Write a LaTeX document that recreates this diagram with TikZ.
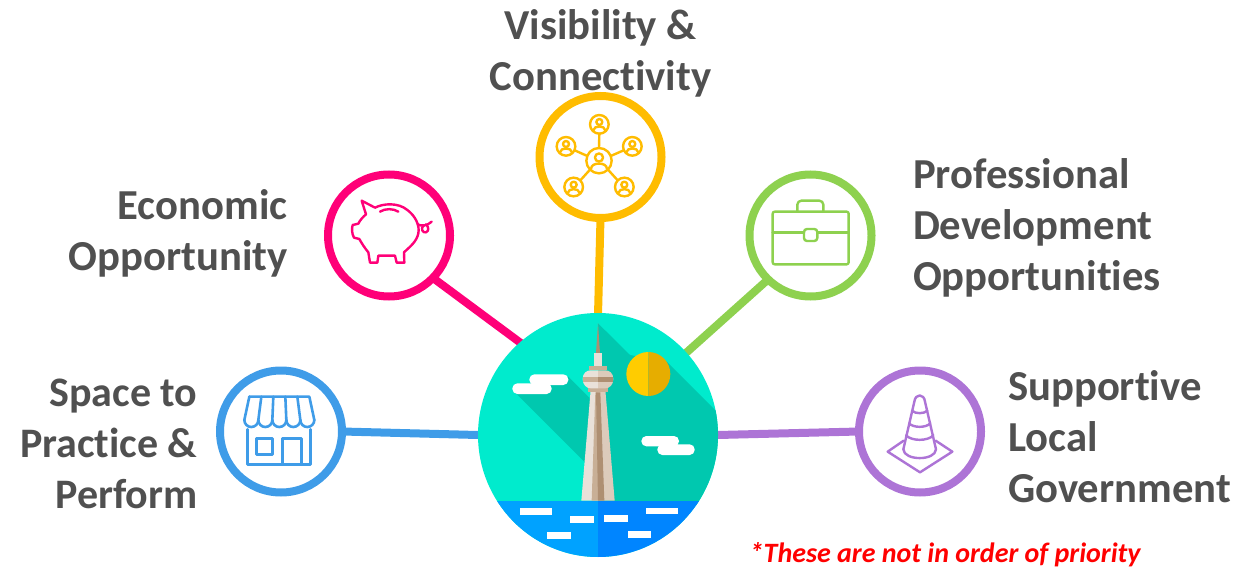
\documentclass[tikz,border=0pt]{standalone}
\usepackage{fontspec}
\setmainfont{Carlito}[Ligatures=NoCommon]
\definecolor{txtgray}{HTML}{505050}
\definecolor{cyellow}{HTML}{FFBC00}
\definecolor{cpink}{HTML}{FF0078}
\definecolor{cgreen}{HTML}{8ED14F}
\definecolor{cblue}{HTML}{3F9CE8}
\definecolor{cpurple}{HTML}{AD74D6}
\definecolor{teal1}{HTML}{00EBCD}
\definecolor{teal2}{HTML}{00C8AF}
\definecolor{wat1}{HTML}{00A2FF}
\definecolor{wat2}{HTML}{0085FF}
\definecolor{sun1}{HTML}{FFCC00}
\definecolor{sun2}{HTML}{E6AD00}
\definecolor{tw1}{HTML}{E9E1D9}
\definecolor{tw2}{HTML}{DCCBBB}
\definecolor{tw3}{HTML}{C8AF96}
\definecolor{tw4}{HTML}{AE8F72}
\tikzset{
  x=1pt,y=-1pt,
  ring/.style={circle,draw=#1,line width=8pt,fill=white,minimum size=122pt,inner sep=0pt,outer sep=0pt},
  spoke/.style={draw=#1,line width=8pt},
  lab/.style={inner sep=0pt,outer sep=0pt,text=txtgray,font=\fontsize{42.7}{51}\selectfont\bfseries},
  icon/.style={line width=2.4pt,line join=round,line cap=round,draw=#1},
  zoomed/.style={x=0.33333pt,y=-0.33333pt},
}
\newcommand{\personicon}[3]{% x y radius, in zoom units
  \draw (#1,#2) circle[radius=#3];
  \draw (#1,#2-0.25*#3) circle[radius=0.32*#3];
  \draw (#1-0.62*#3,#2+0.62*#3) .. controls (#1-0.62*#3,#2+0.1*#3) and (#1+0.62*#3,#2+0.1*#3) .. (#1+0.62*#3,#2+0.62*#3);
}
\begin{document}
\begin{tikzpicture}
\useasboundingbox (0,0) rectangle (1249,569);
% hub and rings
\node[circle,minimum size=240pt,inner sep=0pt,outer sep=0pt] (hub) at (598,435) {};
\node[ring=cyellow] (vis) at (600.5,157) {};
\node[ring=cpink] (eco) at (389,235.5) {};
\node[ring=cgreen] (pro) at (810.5,235.5) {};
\node[ring=cblue] (spa) at (281,431.5) {};
\node[ring=cpurple] (sup) at (920,431.5) {};
% connectors
\draw[spoke=cyellow] (vis.-90) -- (hub.90);
\draw[spoke=cpink] (eco.-44) -- (hub.130);
\draw[spoke=cgreen] (pro.226) -- (hub.43);
\draw[spoke=cblue] (spa.0) -- (hub.180);
\draw[spoke=cpurple] (sup.180) -- (hub.0);
% scene
\begin{scope}[shift={(470,305)},zoomed]
\clip (384,390) ellipse[x radius=360,y radius=366];
\fill[teal1] (0,0) rectangle (780,780);
\fill[teal2] (384,55) -- (480,150) -- (590,170) -- (745,325) -- (780,600) -- (384,600) -- cycle;
\fill[teal2] (135,262) -- (345,472) -- (384,472) -- (384,290) -- (360,280) -- (295,215) -- (180,235) -- cycle;
\fill[sun1] (535,141) arc[start angle=270,end angle=90,radius=66] -- cycle;
\fill[sun2] (535,141) arc[start angle=270,end angle=450,radius=66] -- cycle;
\foreach \a/\b/\c/\d in {178/208/295/240,127/235/245/267,514/393/627/424,562/418/674/450}
  \fill[white,rounded corners=5pt] (\a,\b) rectangle (\c,\d);
\fill[wat1] (0,587) rectangle (384,780);
\fill[wat2] (384,587) rectangle (780,780);
\foreach \a/\b/\c/\d in {150/610/247/630,301/633/372/653,232/681/302/701,403/631/473/651,528/608/625/628,473/679/543/699}
  \fill[white] (\a,\b) rectangle (\c,\d);
% tower
\fill[tw1] (362,255) -- (384,255) -- (384,587) -- (334,587) -- cycle;
\fill[tw2] (384,255) -- (406,255) -- (434,587) -- (384,587) -- cycle;
\fill[tw3] (376,262) -- (384,262) -- (384,587) -- (365,587) -- cycle;
\fill[tw4] (378,262) -- (391,262) -- (403,587) -- (384,587) -- cycle;
\fill[tw4] (384,55) -- (378,145) -- (390,145) -- cycle;
\fill[tw1] (372,145) rectangle (396,183);
\fill[tw3] (358,183) rectangle (412,196);
\fill[tw3] (354,250) rectangle (414,261);
\fill[tw1] (338,222) .. controls (338,204) and (350,196) .. (362,196) -- (384,196) -- (384,250) -- (362,250) .. controls (350,250) and (338,240) .. (338,222) -- cycle;
\fill[tw2] (430,222) .. controls (430,204) and (418,196) .. (406,196) -- (384,196) -- (384,250) -- (406,250) .. controls (418,250) and (430,240) .. (430,222) -- cycle;
\fill[tw3] (338,216) rectangle (384,232);
\fill[tw4] (384,216) rectangle (430,232);
\end{scope}
% network icon
\begin{scope}[shift={(525,85)},zoomed,icon=cyellow]
\personicon{222}{227}{38}
\personicon{223}{118}{28}
\personicon{123}{184}{28}
\personicon{322}{184}{28}
\personicon{146}{306}{28}
\personicon{298}{306}{28}
\draw (223,146) -- (222,189);
\draw (149,196) -- (187,213);
\draw (296,196) -- (257,213);
\draw (166,286) -- (195,254);
\draw (278,286) -- (249,254);
\end{scope}
% pig icon
\begin{scope}[shift={(320,165)},zoomed,icon=cpink]
\draw (125,107) -- (165,128) .. controls (190,115) and (235,112) .. (262,135)
  .. controls (285,152) and (300,180) .. (295,205)
  .. controls (290,230) and (270,245) .. (252,262) -- (253,293) -- (230,293) -- (225,272)
  -- (175,272) -- (172,293) -- (150,293) -- (145,262)
  .. controls (135,250) and (125,235) .. (118,222) -- (102,218)
  .. controls (95,205) and (95,190) .. (98,180) -- (115,176)
  .. controls (120,165) and (130,155) .. (138,148) -- cycle;
\draw (180,140) .. controls (195,130) and (220,130) .. (235,140);
\draw (293,178) .. controls (305,185) and (322,182) .. (335,170);
\draw (312,180) .. controls (300,190) and (308,205) .. (318,202) .. controls (328,198) and (326,185) .. (318,178);
\end{scope}
% briefcase icon
\begin{scope}[shift={(740,165)},zoomed,icon=cgreen]
\draw[rounded corners=2pt] (98,140) rectangle (326,298);
\draw[rounded corners=4pt] (172,140) -- (172,107) -- (250,107) -- (250,140);
\draw (98,203) -- (192,203);
\draw (232,203) -- (326,203);
\draw[rounded corners=3pt] (192,192) -- (192,228) -- (232,228) -- (232,192) -- cycle;
\end{scope}
% store icon
\begin{scope}[shift={(210,360)},zoomed,icon=cblue,line width=2.6pt]
\draw (118,110) -- (298,110) -- (313,180);
\draw (118,110) -- (103,180);
\draw (103,180) arc[start angle=180,end angle=0,radius=21];
\draw (145,180) arc[start angle=180,end angle=0,radius=21];
\draw (187,180) arc[start angle=180,end angle=0,radius=21];
\draw (229,180) arc[start angle=180,end angle=0,radius=21];
\draw (271,180) arc[start angle=180,end angle=0,radius=21];
\draw (154,110) -- (145,180);
\draw (190,110) -- (187,180);
\draw (226,110) -- (229,180);
\draw (262,110) -- (271,180);
\draw (113,208) -- (113,313) -- (301,313) -- (301,208);
\draw[line width=3pt] (140,235) rectangle (188,282);
\draw (218,313) -- (218,235) -- (275,235) -- (275,313);
\end{scope}
% cone icon
\begin{scope}[shift={(850,360)},zoomed,icon=cpurple]
\draw (160,268) -- (193,125) .. controls (196,100) and (222,100) .. (225,125) -- (258,268);
\draw (160,268) .. controls (162,303) and (256,303) .. (258,268);
\draw (186,152) .. controls (195,162) and (223,162) .. (232,152);
\draw (177,190) .. controls (190,204) and (228,204) .. (241,190);
\draw (168,226) .. controls (185,244) and (233,244) .. (250,226);
\draw (161,242) -- (113,275) -- (210,337) -- (307,275) -- (257,242);
\end{scope}
% labels
\node[lab,anchor=base] (tvis) at (600.5,39.5) {Visibility \&};
\node[lab,anchor=base] (tvis2) at (600.5,90.5) {Connectivity};
\node[lab,anchor=base east] (te1) at (287.5,219.5) {Economic};
\node[lab,anchor=base east] (te2) at (287.5,270.5) {Opportunity};
\node[lab,anchor=base east,font=\fontsize{42}{51}\selectfont\bfseries] (ts1) at (197.5,406) {Space to};
\node[lab,anchor=base east,font=\fontsize{42}{51}\selectfont\bfseries] (ts2) at (197.5,457) {Practice \&};
\node[lab,anchor=base east,font=\fontsize{42}{51}\selectfont\bfseries] (ts3) at (197.5,508) {Perform};
\node[lab,anchor=base west] (tp1) at (913,188.5) {Professional};
\node[lab,anchor=base west] (tp2) at (913,239.5) {Development};
\node[lab,anchor=base west] (tp3) at (913,290.5) {Opportunities};
\node[lab,anchor=base west] (tu1) at (1008,400) {Supportive};
\node[lab,anchor=base west] (tu2) at (1008,451) {Local};
\node[lab,anchor=base west] (tu3) at (1008,502) {Government};
\node[inner sep=0pt,anchor=base west,text=red,font=\fontsize{28}{30}\selectfont\bfseries\itshape] (note) at (749.5,562) {*These are not in order of priority};
\end{tikzpicture}
\end{document}
